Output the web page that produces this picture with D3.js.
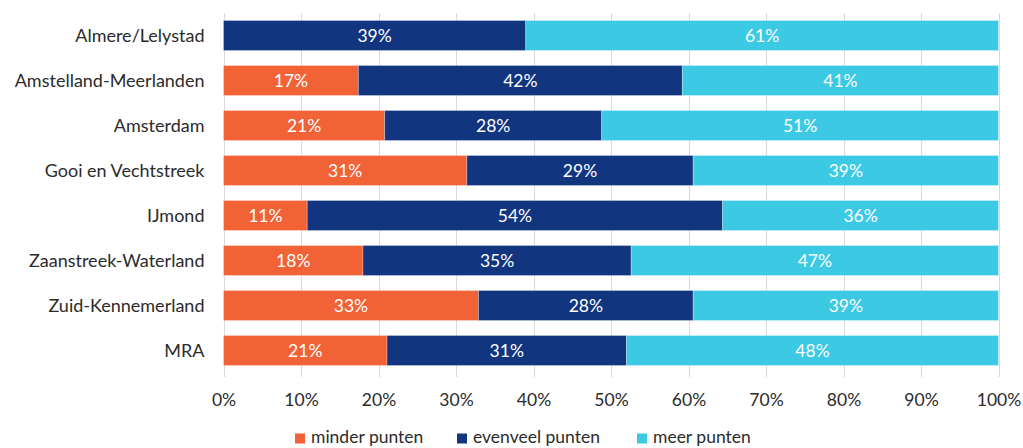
<!DOCTYPE html>
<html>
<head>
<meta charset="utf-8">
<script src="https://cdn.jsdelivr.net/npm/d3@7"></script>
<style>
  html, body { margin: 0; padding: 0; background: #fff; }
  svg { display: block; font-family: Lato, "Open Sans", sans-serif; }
</style>
</head>
<body>
<svg id="chart" width="1023" height="448"></svg>
<script>
// Regions (top to bottom)
const regions = [
  "Almere/Lelystad",
  "Amstelland-Meerlanden",
  "Amsterdam",
  "Gooi en Vechtstreek",
  "IJmond",
  "Zaanstreek-Waterland",
  "Zuid-Kennemerland",
  "MRA"
];

// Share of respondents (%) per answer
const minderPunten   = [0,    17.4, 20.8, 31.4, 10.8, 18.0, 32.9, 21.1];
const evenveelPunten = [39.0, 41.8, 28.0, 29.2, 53.6, 34.6, 27.7, 30.9];
const meerPunten     = [61.0, 40.8, 51.2, 39.4, 35.6, 47.4, 39.4, 48.0];

const seriesNames  = ["minder punten", "evenveel punten", "meer punten"];
const seriesColors = ["#F26237", "#12357F", "#3CC9E4"];

const tickValues = [0, 10, 20, 30, 40, 50, 60, 70, 80, 90, 100];

const rows = regions.map((r, i) => ({
  region: r,
  "minder punten": minderPunten[i],
  "evenveel punten": evenveelPunten[i],
  "meer punten": meerPunten[i]
}));

const svg = d3.select("#chart");
const x0 = 223.5, x1 = 998.5, yTop = 13, yBot = 373;
const textColor = "#2b2b2b";

const x = d3.scaleLinear().domain([0, 100]).range([x0, x1]);
const y = d3.scaleBand().domain(regions).range([yTop, yBot])
  .paddingInner(1 / 3).paddingOuter(1 / 6);
const color = d3.scaleOrdinal().domain(seriesNames).range(seriesColors);

// Vertical gridlines
svg.append("g")
  .selectAll("line")
  .data(tickValues)
  .join("line")
  .attr("x1", d => Math.round(x(d)) + 0.5)
  .attr("x2", d => Math.round(x(d)) + 0.5)
  .attr("y1", yTop)
  .attr("y2", yBot + 4)
  .attr("stroke", "#D9D9D9")
  .attr("stroke-width", 1);

// Stacked bars
const stacked = d3.stack().keys(seriesNames)(rows);

const layer = svg.append("g")
  .selectAll("g")
  .data(stacked)
  .join("g")
  .attr("fill", d => color(d.key));

layer.selectAll("rect")
  .data(d => d.filter(p => p[1] - p[0] > 0))
  .join("rect")
  .attr("x", d => x(d[0]))
  .attr("y", d => y(d.data.region))
  .attr("width", d => x(d[1]) - x(d[0]))
  .attr("height", y.bandwidth())
  .attr("stroke", "#ffffff")
  .attr("stroke-opacity", 0.35)
  .attr("stroke-width", 0.8);

// Value labels inside segments
layer.selectAll("text")
  .data(d => d.filter(p => p[1] - p[0] > 0))
  .join("text")
  .attr("x", d => (x(d[0]) + x(d[1])) / 2)
  .attr("y", d => y(d.data.region) + y.bandwidth() / 2)
  .attr("dy", "0.36em")
  .attr("text-anchor", "middle")
  .attr("fill", "#ffffff")
  .attr("font-size", 17.5)
  .text(d => d3.format(".0f")(d[1] - d[0]) + "%");

// Category axis
const yAxis = svg.append("g")
  .attr("transform", `translate(${x0 - 19},0)`)
  .call(d3.axisLeft(y).tickSize(0).tickPadding(0));
yAxis.select(".domain").remove();
yAxis.selectAll("text")
  .attr("font-size", 18)
  .attr("dy", "0.38em")
  .attr("fill", textColor)
  .attr("font-family", "Lato, 'Open Sans', sans-serif");

// Percentage axis
const xAxis = svg.append("g")
  .attr("transform", `translate(0,${yBot})`)
  .call(d3.axisBottom(x).tickValues(tickValues).tickSize(0).tickPadding(21)
    .tickFormat(d => d + "%"));
xAxis.select(".domain").remove();
xAxis.selectAll("text")
  .attr("font-size", 17.5)
  .attr("fill", textColor)
  .attr("font-family", "Lato, 'Open Sans', sans-serif");

// Legend
const legendX = [295, 457, 637];
const legend = svg.append("g")
  .selectAll("g")
  .data(seriesNames)
  .join("g")
  .attr("transform", (d, i) => `translate(${legendX[i]},431)`);
legend.append("rect")
  .attr("width", 10).attr("height", 10).attr("y", 2.5)
  .attr("fill", d => color(d));
legend.append("text")
  .attr("x", 16).attr("y", 12)
  .attr("font-size", 17.5)
  .attr("fill", textColor)
  .text(d => d);
</script>
</body>
</html>
